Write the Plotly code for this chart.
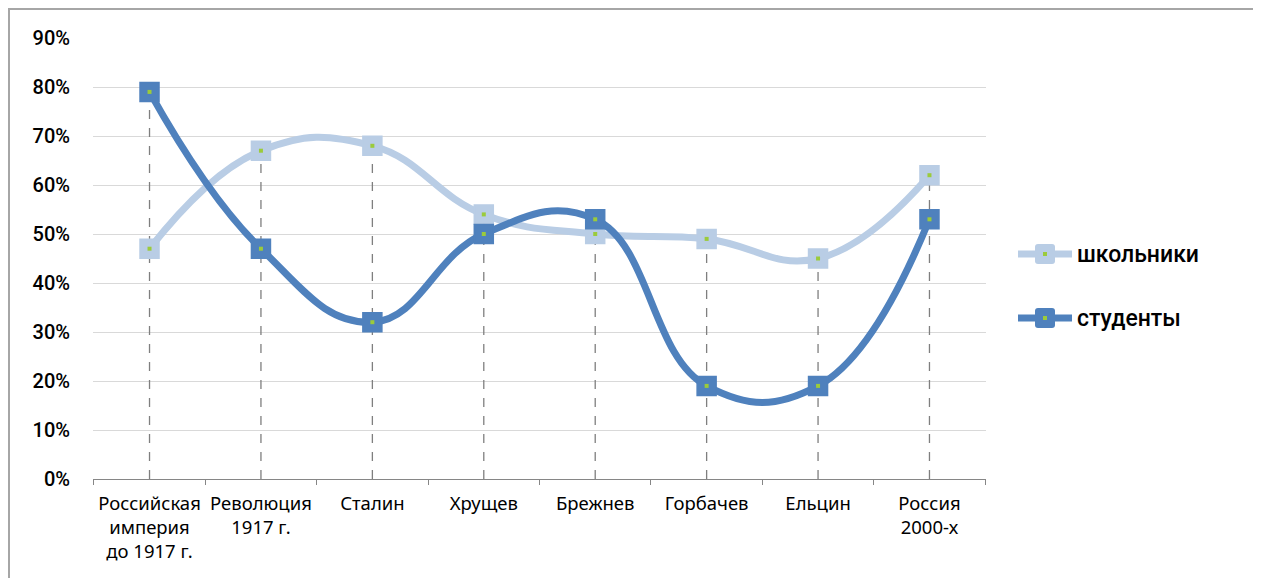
import plotly.graph_objects as go

categories = [
    "Российская<br>империя<br>до 1917 г.",
    "Революция<br>1917 г.",
    "Сталин",
    "Хрущев",
    "Брежнев",
    "Горбачев",
    "Ельцин",
    "Россия<br>2000-х",
]
schoolchildren = [47, 67, 68, 54, 50, 49, 45, 62]
students = [79, 47, 32, 50, 53, 19, 19, 53]
series_names = ["школьники", "студенты"]

LIGHT = "#B9CDE5"
DARK = "#4F81BD"
DOT = "#9BCB3B"

# the page body has an 8px margin, so the figure is made 8px smaller
W, H = 1253, 570
L, T, PW, PH = 85, 30, 893, 441


def px_x(x):
    return (x - L) / PW


def px_y(y):
    return (T + PH - y) / PH


# vertical drop lines from the higher point down to the axis
drop_x, drop_y = [], []
for cat, a, b in zip(categories, schoolchildren, students):
    drop_x += [cat, cat, None]
    drop_y += [0, max(a, b), None]

fig = go.Figure()
fig.add_trace(go.Scatter(
    x=drop_x, y=drop_y, mode="lines", showlegend=False, hoverinfo="skip",
    line=dict(color="#7F7F7F", width=1.3, dash="dash"),
))
for name, vals, col in [(series_names[0], schoolchildren, LIGHT), (series_names[1], students, DARK)]:
    fig.add_trace(go.Scatter(
        x=categories, y=vals, name=name, mode="lines+markers", showlegend=False,
        line=dict(color=col, width=7, shape="spline", smoothing=1.25),
        marker=dict(symbol="square", size=19, color=col, line=dict(color=col, width=1.5)),
    ))
for vals in (schoolchildren, students):
    fig.add_trace(go.Scatter(
        x=categories, y=vals, mode="markers", showlegend=False, hoverinfo="skip",
        marker=dict(symbol="square", size=4, color=DOT),
    ))

# outer chart border
fig.add_shape(type="rect", xref="paper", yref="paper",
              x0=px_x(1), x1=px_x(1248), y0=-0.3, y1=px_y(1),
              line=dict(color="#A6A6A6", width=2))

# hand-drawn legend (line + rounded square marker + label)
for name, col, ly in [(series_names[0], LIGHT, 246), (series_names[1], DARK, 310)]:
    fig.add_shape(type="line", xref="paper", yref="paper",
                  x0=px_x(1010), x1=px_x(1064), y0=px_y(ly), y1=px_y(ly),
                  line=dict(color=col, width=7, ))
    cx, r, c = 1037, 10, 3
    path = (f"M{px_x(cx - r + c)},{px_y(ly - r)} L{px_x(cx + r - c)},{px_y(ly - r)} "
            f"Q{px_x(cx + r)},{px_y(ly - r)} {px_x(cx + r)},{px_y(ly - r + c)} "
            f"L{px_x(cx + r)},{px_y(ly + r - c)} Q{px_x(cx + r)},{px_y(ly + r)} {px_x(cx + r - c)},{px_y(ly + r)} "
            f"L{px_x(cx - r + c)},{px_y(ly + r)} Q{px_x(cx - r)},{px_y(ly + r)} {px_x(cx - r)},{px_y(ly + r - c)} "
            f"L{px_x(cx - r)},{px_y(ly - r + c)} Q{px_x(cx - r)},{px_y(ly - r)} {px_x(cx - r + c)},{px_y(ly - r)} Z")
    fig.add_shape(type="path", xref="paper", yref="paper", path=path,
                  fillcolor=col, line=dict(color=col, width=0))
    fig.add_shape(type="rect", xref="paper", yref="paper",
                  x0=px_x(cx - 2), x1=px_x(cx + 2), y0=px_y(ly - 2), y1=px_y(ly + 2),
                  fillcolor=DOT, line=dict(width=0))
    fig.add_annotation(xref="paper", yref="paper", x=px_x(1067), y=px_y(ly),
                       xanchor="left", yanchor="middle", showarrow=False, text=name,
                       font=dict(family="Roboto", size=23, color="#000000", weight=500))

fig.update_layout(
    width=W, height=H,
    margin=dict(l=L, r=W - L - PW, t=T, b=H - T - PH),
    paper_bgcolor="white", plot_bgcolor="white",
    showlegend=False,
    xaxis=dict(
        type="category", categoryorder="array", categoryarray=categories,
        tickson="boundaries", ticks="outside", ticklen=5, tickcolor="#868686",
        showline=True, linecolor="#868686", linewidth=1, showgrid=False,
        ticklabelstandoff=8, tickangle=0, automargin=False,
        tickfont=dict(family="Noto Sans", size=18.5, color="#000000"),
    ),
    yaxis=dict(
        range=[0, 90], dtick=10, ticksuffix="%", automargin=False,
        showgrid=True, gridcolor="#D9D9D9", gridwidth=1.3,
        zeroline=False, showline=False, ticks="", ticklabelstandoff=22,
        tickfont=dict(family="Roboto", size=20, color="#000000", weight=500),
    ),
)

fig.write_html("out.html")
